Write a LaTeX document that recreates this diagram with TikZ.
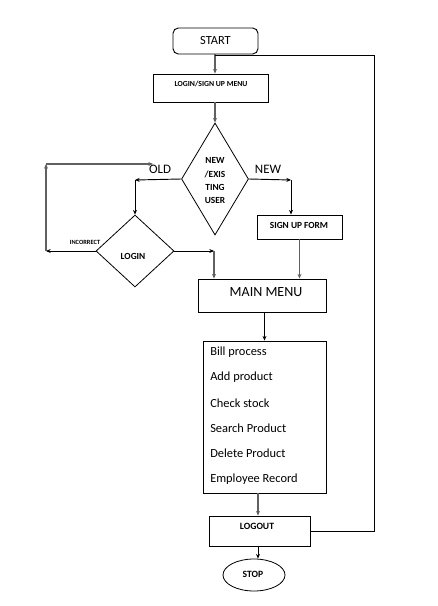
\documentclass[tikz,border=0pt]{standalone}
\usepackage{fontspec}
\setmainfont{Carlito}
\usetikzlibrary{shapes.geometric,arrows.meta}
\begin{document}
\begin{tikzpicture}[x=0.75pt,y=-0.75pt,
  line/.style={draw=black, line width=0.7pt},
  gline/.style={draw=gray!75!black, line width=0.9pt},
  arr/.style={line, -{Stealth[length=3.5pt,width=3pt]}},
  garr/.style={gline, -{Stealth[length=3.5pt,width=3pt]}},
  box/.style={draw, line width=0.7pt, rectangle, inner sep=0pt},
  dia/.style={draw, line width=0.6pt, diamond, inner sep=0pt},
  txt/.style={inner sep=0pt, font=\bfseries\fontsize{7.2}{9}\selectfont}
]
\useasboundingbox (0,0) rectangle (437,606);

% nodes
\node[box, rounded corners=4pt, minimum width=63.75pt, minimum height=19.5pt,
      font=\fontsize{9.3}{11}\selectfont] (start) at (215.5,41) {START};
\node[box, minimum width=86.25pt, minimum height=21pt] (menu) at (210.5,88) {};
\node[txt, font=\bfseries\fontsize{5.8}{7}\selectfont] (menut) at (211,84) {LOGIN/SIGN UP MENU};

\node[dia, minimum width=50.25pt, minimum height=84pt] (d1) at (215,179) {};
\node[txt, align=center, font=\bfseries\fontsize{7}{10}\selectfont] (d1t) at (215,181) {NEW\\/EXIS\\TING\\USER};

\node[dia, minimum width=58.5pt, minimum height=54pt] (d2) at (135,251) {};
\node[txt, font=\bfseries\fontsize{7}{9}\selectfont] (d2t) at (133,256) {LOGIN};

\node[box, minimum width=63.75pt, minimum height=18pt] (sign) at (299.5,227) {};
\node[txt, font=\bfseries\fontsize{7}{9}\selectfont] (signt) at (299,225) {SIGN UP FORM};

\node[box, minimum width=96pt, minimum height=24.75pt] (main) at (262,295.5) {};
\node[inner sep=0pt, font=\fontsize{10.5}{12}\selectfont] (maint) at (266,292) {MAIN MENU};

\node[box, minimum width=92.25pt, minimum height=114pt] (items) at (264.5,417) {};
\begin{scope}[every node/.style={inner sep=0pt, anchor=west, font=\fontsize{9.3}{11}\selectfont}]
\node (i1) at (210,352) {Bill process};
\node (i2) at (210,377.5) {Add product};
\node (i3) at (210,403) {Check stock};
\node (i4) at (210,428) {Search Product};
\node (i5) at (210,453) {Delete Product};
\node (i6) at (210,479) {Employee Record};
\end{scope}

\node[box, minimum width=75.75pt, minimum height=22.5pt] (logout) at (259.5,531) {};
\node[txt] (logoutt) at (257,526) {LOGOUT};

\node[draw, line width=0.6pt, ellipse, minimum width=46.5pt, minimum height=24pt, inner sep=0pt] (stop) at (254,575) {};
\node[txt] (stopt) at (253,574) {STOP};

% labels
\node[inner sep=0pt, font=\fontsize{9.7}{11}\selectfont] (old) at (160,169) {OLD};
\node[inner sep=0pt, font=\fontsize{9.7}{11}\selectfont] (new) at (268,169) {NEW};
\node[inner sep=0pt, font=\bfseries\fontsize{4.8}{6}\selectfont] (inc) at (85,242) {INCORRECT};

% coordinates
\coordinate (r2) at (374,55);
\coordinate (cold) at (135,180);
\coordinate (i1c) at (46,251);
\coordinate (i2c) at (46,164);
\coordinate (i3c) at (153,164);
\coordinate (n1) at (291,180);
\coordinate (l1) at (214,251);
\coordinate (b1) at (258,493);
\coordinate (b2) at (258,546);

% connectors
\draw[garr] (start.south -| d1.north) -- (menu.north -| d1.north);
\draw[line] (logout.east) -| (r2) -- (r2 -| d1.north);
\draw[garr] (menu.south -| d1.north) -- (d1.north);

\draw[arr] (d1.west) -- (cold);
\draw[arr] (cold) -- (d2.north);

\draw[arr] (d2.west) -- (i1c);
\draw[garr] (i1c) -- (i2c);
\draw[garr] (i2c) -- (i3c);

\draw[arr] (d1.east) -- (n1);
\draw[arr] (n1) -- (n1 |- sign.north);
\draw[garr] (sign.south) -- (sign.south |- main.north);

\draw[arr] (d2.east) -- (l1);
\draw[garr] (l1) -- (l1 |- main.north);

\draw[arr] (items.north |- main.south) -- (items.north);
\draw[garr] (b1) -- (b1 |- logout.north);
\draw[arr] (b2) -- (b2 |- stop.north);
\end{tikzpicture}
\end{document}
